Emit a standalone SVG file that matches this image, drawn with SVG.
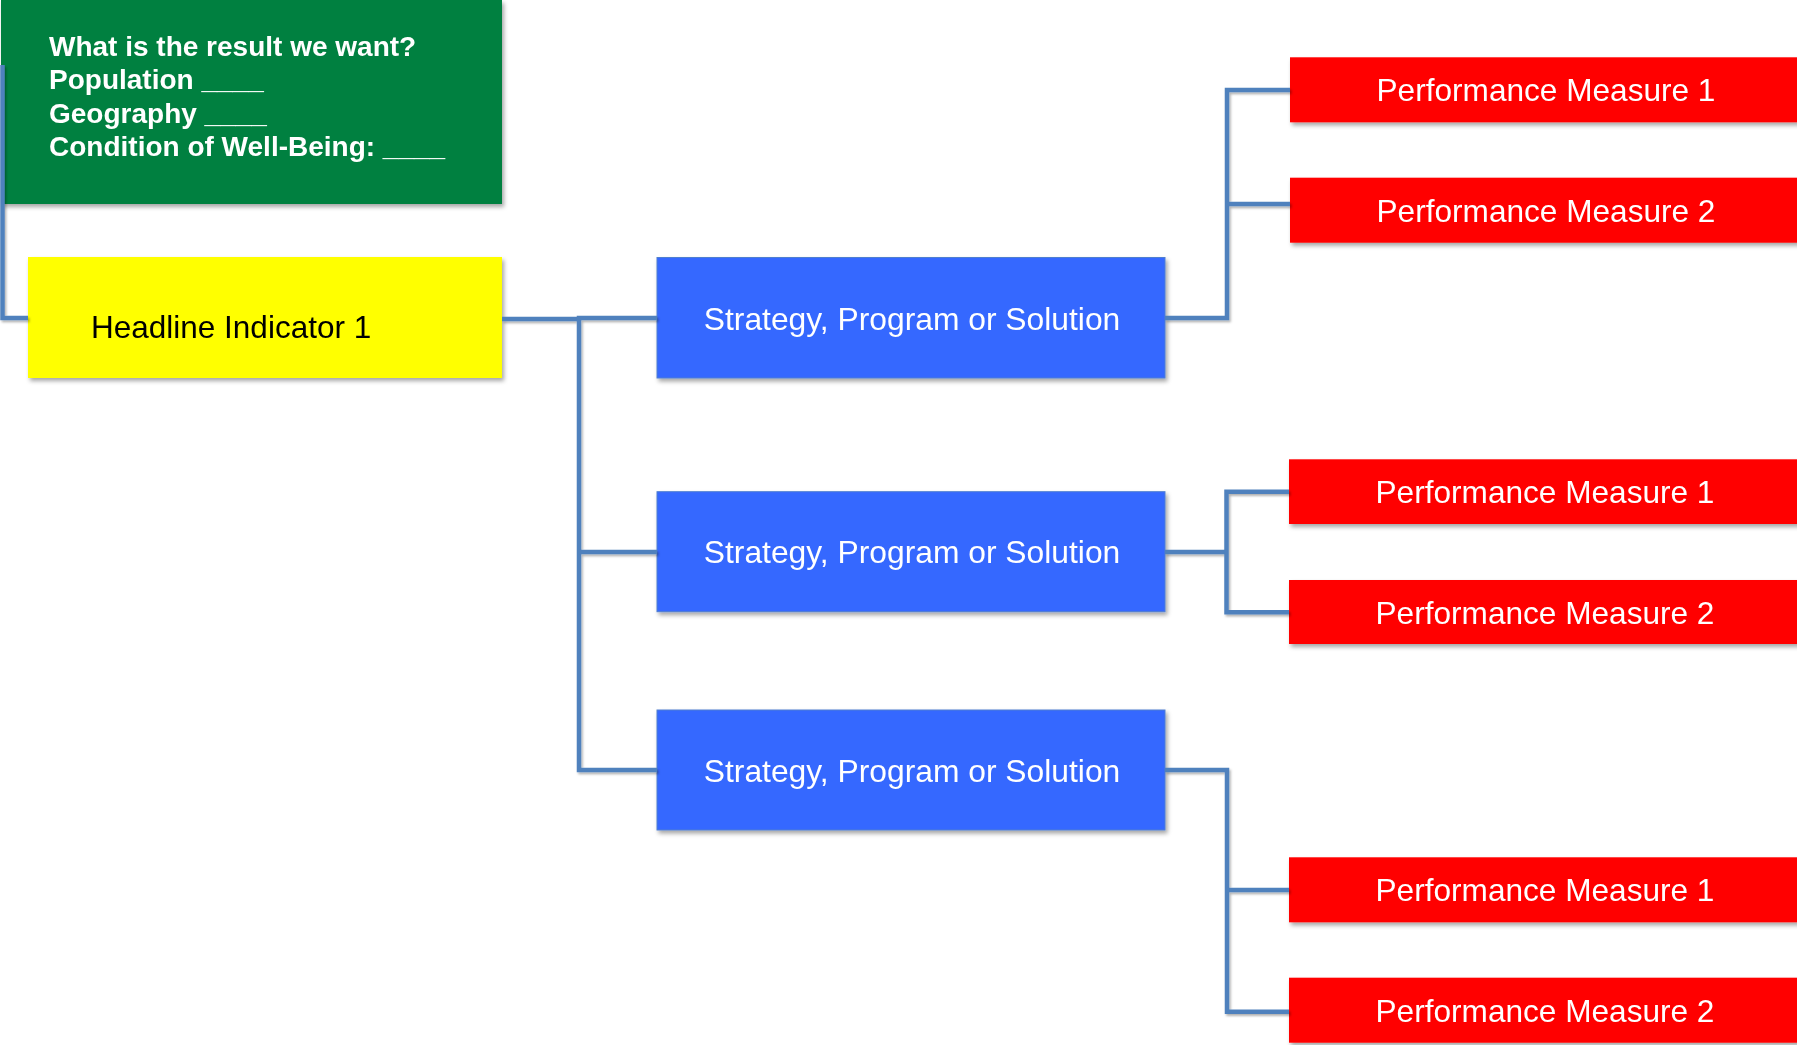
<svg xmlns="http://www.w3.org/2000/svg" width="1797" height="1045" viewBox="0 0 1797 1045">
<defs>
<filter id="sh" x="-10%" y="-20%" width="130%" height="160%">
<feDropShadow dx="2" dy="3" stdDeviation="2" flood-color="#000" flood-opacity="0.35"/>
</filter>
<filter id="lsh" x="-10%" y="-10%" width="130%" height="130%">
<feDropShadow dx="1.5" dy="2" stdDeviation="1" flood-color="#000" flood-opacity="0.3"/>
</filter>
</defs>
<style>
.green{fill:#00803F}
.yellow{fill:#FFFF00}
.blue{fill:#3668FF;stroke:#4F7FD0;stroke-width:1}
.red{fill:#FF0000}
.gt{font-family:"Liberation Sans",Arial,sans-serif;font-weight:bold;font-size:28px;fill:#fff}
.yt{font-family:"Liberation Sans",Arial,sans-serif;font-size:31.5px;fill:#000}
.bt{font-family:"Liberation Sans",Arial,sans-serif;font-size:31.8px;fill:#fff;text-anchor:middle}
.rt{font-family:"Liberation Sans",Arial,sans-serif;font-size:31.6px;fill:#fff;text-anchor:middle}
.c{fill:none;stroke:#4F81BD;stroke-width:4.5;stroke-linejoin:miter}
</style>
<rect width="1797" height="1045" fill="#fff"/>
<g id="result" filter="url(#sh)">
<rect class="green" x="1" y="0" width="501" height="204"/>
<text class="gt" x="49" y="55.5">What is the result we want?</text>
<text class="gt" x="49" y="89">Population ____</text>
<text class="gt" x="49" y="122.5">Geography ____</text>
<text class="gt" x="49" y="156">Condition of Well-Being: ____</text>
</g>
<g id="headline" filter="url(#sh)">
<rect class="yellow" x="28" y="257" width="474" height="121"/>
<text class="yt" x="91" y="338">Headline Indicator 1</text>
</g>
<g id="strategy1" filter="url(#sh)">
<rect class="blue" x="657" y="257.5" width="508" height="120.5"/>
<text class="bt" x="912" y="329.5">Strategy, Program or Solution</text>
</g>
<g id="strategy2" filter="url(#sh)">
<rect class="blue" x="657" y="491.7" width="508" height="120"/>
<text class="bt" x="912" y="563">Strategy, Program or Solution</text>
</g>
<g id="strategy3" filter="url(#sh)">
<rect class="blue" x="657" y="710" width="508" height="120"/>
<text class="bt" x="912" y="781.5">Strategy, Program or Solution</text>
</g>
<g id="pm1a" filter="url(#sh)">
<rect class="red" x="1290" y="57.3" width="512" height="65"/>
<text class="rt" x="1546" y="101.3">Performance Measure 1</text>
</g>
<g id="pm2a" filter="url(#sh)">
<rect class="red" x="1290" y="177.7" width="512" height="65"/>
<text class="rt" x="1546" y="221.7">Performance Measure 2</text>
</g>
<g id="pm1b" filter="url(#sh)">
<rect class="red" x="1289" y="459.3" width="513" height="64.7"/>
<text class="rt" x="1545" y="503.2">Performance Measure 1</text>
</g>
<g id="pm2b" filter="url(#sh)">
<rect class="red" x="1289" y="580" width="513" height="64"/>
<text class="rt" x="1545" y="623.5">Performance Measure 2</text>
</g>
<g id="pm1c" filter="url(#sh)">
<rect class="red" x="1289" y="857.3" width="513" height="65"/>
<text class="rt" x="1545" y="901.3">Performance Measure 1</text>
</g>
<g id="pm2c" filter="url(#sh)">
<rect class="red" x="1289" y="977.7" width="513" height="65"/>
<text class="rt" x="1545" y="1021.7">Performance Measure 2</text>
</g>
<g id="connectors" filter="url(#lsh)">
<path class="c" d="M28 318 H2.5 V65"/>
<path class="c" d="M502 319 H579"/>
<path class="c" d="M657 318 H579 V770 H657"/>
<path class="c" d="M579 552 H657"/>
<path class="c" d="M1165 318 H1227 V90 H1290"/>
<path class="c" d="M1227 204 H1290"/>
<path class="c" d="M1165 552 H1226.5"/>
<path class="c" d="M1289 491.7 H1226.5 V612.3 H1289"/>
<path class="c" d="M1165 770 H1227 V1011.7 H1289"/>
<path class="c" d="M1227 890 H1289"/>
</g>
</svg>
